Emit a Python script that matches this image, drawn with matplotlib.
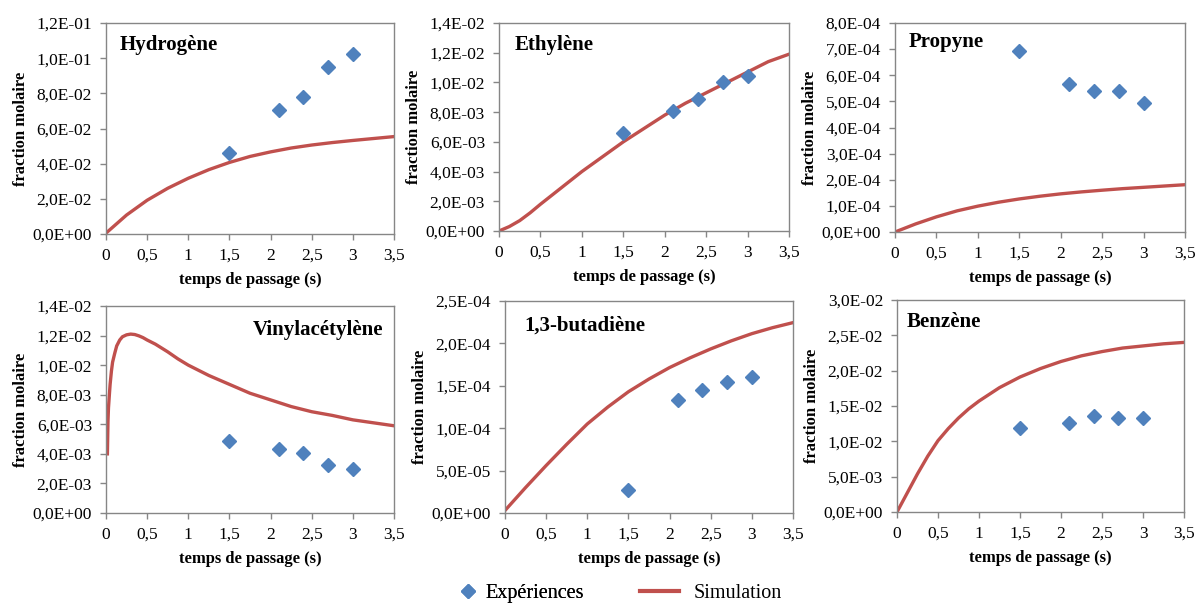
import matplotlib
matplotlib.use('Agg')
import matplotlib.pyplot as plt
from matplotlib.ticker import FuncFormatter, MultipleLocator

plt.rcParams['font.family'] = ['Liberation Serif', 'DejaVu Serif']

BLUE = '#4F81BD'
RED = '#C0504D'
GRAY = '#868686'

# experimental passage times (s)
exp_t = [1.5, 2.1, 2.4, 2.7, 3.0]

# common simulation time grid (s)
sim_t = [0, 0.25, 0.5, 0.75, 1.0, 1.25, 1.5, 1.75, 2.0, 2.25, 2.5, 2.75, 3.0, 3.25, 3.5]

h2_exp = [0.0459, 0.0703, 0.0779, 0.0948, 0.1026]
h2_sim = [0.0005, 0.0108, 0.0192, 0.0260, 0.0317, 0.0366, 0.0407, 0.0441, 0.0467, 0.0489,
          0.0506, 0.0520, 0.0532, 0.0543, 0.0554]

c2h4_exp = [0.00658, 0.00811, 0.00888, 0.01002, 0.01045]
c2h4_t = [0, 0.125, 0.25, 0.375, 0.5, 0.75, 1.0, 1.25, 1.5, 1.75, 2.0, 2.25, 2.5, 2.75,
          3.0, 3.25, 3.5]
c2h4_sim = [0.0, 0.0003, 0.0007, 0.00122, 0.0018, 0.0029, 0.0040, 0.0050, 0.0060, 0.0069,
            0.0078, 0.0086, 0.0093, 0.0100, 0.0107, 0.0114, 0.0119]

propyne_exp = [6.94e-4, 5.66e-4, 5.41e-4, 5.41e-4, 4.93e-4]
propyne_sim = [0.0, 0.31e-4, 0.58e-4, 0.81e-4, 0.99e-4, 1.14e-4, 1.265e-4, 1.37e-4, 1.46e-4,
               1.535e-4, 1.60e-4, 1.66e-4, 1.71e-4, 1.76e-4, 1.81e-4]

vinyl_exp = [0.00484, 0.00432, 0.00403, 0.00324, 0.00299]
vinyl_t = [0.017, 0.024, 0.03, 0.041, 0.05, 0.066, 0.08, 0.106, 0.13, 0.167, 0.2, 0.25,
           0.3, 0.35, 0.4, 0.45, 0.5, 0.6, 0.75, 0.875, 1.0, 1.25, 1.5, 1.75, 2.0, 2.25,
           2.5, 2.75, 3.0, 3.25, 3.5]
vinyl_sim = [0.0040, 0.0062, 0.0071, 0.0080, 0.0087, 0.0096, 0.0102, 0.0108, 0.0113,
             0.0117, 0.01192, 0.01205, 0.0121, 0.01207, 0.01198, 0.01186, 0.0117, 0.01142,
             0.0109, 0.01042, 0.0100, 0.0093, 0.0087, 0.0081, 0.00765, 0.0072, 0.00685,
             0.0066, 0.0063, 0.0061, 0.0059]

butadiene_exp = [2.68e-5, 1.327e-4, 1.453e-4, 1.54e-4, 1.606e-4]
butadiene_sim = [0.3e-5, 3.0e-5, 5.6e-5, 8.1e-5, 1.05e-4, 1.25e-4, 1.43e-4, 1.58e-4,
                 1.715e-4, 1.83e-4, 1.935e-4, 2.03e-4, 2.115e-4, 2.185e-4, 2.245e-4]

benzene_exp = [0.01191, 0.01262, 0.01356, 0.01333, 0.01333]
benzene_t = [0, 0.125, 0.25, 0.375, 0.5, 0.625, 0.75, 0.875, 1.0, 1.25, 1.5, 1.75, 2.0,
             2.25, 2.5, 2.75, 3.0, 3.25, 3.5]
benzene_sim = [0.0, 0.0027, 0.0054, 0.0079, 0.0101, 0.0118, 0.0133, 0.0146, 0.0157,
               0.0176, 0.0191, 0.0203, 0.0213, 0.0221, 0.0227, 0.0232, 0.0235, 0.0238,
               0.0240]

W, H = 1196, 604

panels = [
    # name, sim x, sim y, exp y, ymax, ystep, box px (left, top, right, bottom), title pos, align
    ('Hydrogène', sim_t, h2_sim, h2_exp, 0.12, 0.02, (106, 23, 394, 234), (0.049, 0.896), 'left'),
    ('Ethylène', c2h4_t, c2h4_sim, c2h4_exp, 0.014, 0.002, (499, 23, 789, 231), (0.055, 0.894), 'left'),
    ('Propyne', sim_t, propyne_sim, propyne_exp, 8e-4, 1e-4, (895, 23, 1185, 232), (0.048, 0.909), 'left'),
    ('Vinylacétylène', vinyl_t, vinyl_sim, vinyl_exp, 0.014, 0.002, (106, 306, 394, 513), (0.962, 0.884), 'right'),
    ('1,3-butadiène', sim_t, butadiene_sim, butadiene_exp, 2.5e-4, 5e-5, (505, 301, 793, 513), (0.069, 0.882), 'left'),
    ('Benzène', benzene_t, benzene_sim, benzene_exp, 0.03, 0.005, (897, 300, 1184, 512), (0.035, 0.896), 'left'),
]


def sci_fmt(v, pos):
    return f'{v:.1E}'.replace('.', ',')


def x_fmt(v, pos):
    return f'{v:g}'.replace('.', ',')


fig = plt.figure(figsize=(W / 100, H / 100), dpi=100)

for name, st, sy, ey, ymax, ystep, box, tpos, align in panels:
    l, t, r, b = box
    ax = fig.add_axes([l / W, 1 - b / H, (r - l) / W, (b - t) / H])
    ax.plot(st, sy, color=RED, lw=2.4, solid_joinstyle='round', zorder=2)
    ax.plot(exp_t, ey, 'D', color=BLUE, ms=7.5, mec=BLUE, zorder=3)
    ax.set_xlim(0, 3.5)
    ax.set_ylim(0, ymax)
    ax.xaxis.set_major_locator(MultipleLocator(0.5))
    ax.yaxis.set_major_locator(MultipleLocator(ystep))
    ax.xaxis.set_major_formatter(FuncFormatter(x_fmt))
    ax.yaxis.set_major_formatter(FuncFormatter(sci_fmt))
    for s in ax.spines.values():
        s.set_color(GRAY)
        s.set_linewidth(1.0)
    ax.tick_params(axis='both', direction='out', length=4, width=1, color=GRAY,
                   labelsize=12.5, labelcolor='black')
    ax.tick_params(axis='y', pad=6)
    ax.tick_params(axis='x', pad=6)
    ax.set_xlabel('temps de passage (s)', fontsize=12, fontweight='bold', labelpad=6)
    ax.set_ylabel('fraction molaire', fontsize=12, fontweight='bold', labelpad=3)
    ax.text(tpos[0], tpos[1], name, transform=ax.transAxes, fontsize=15,
            fontweight='bold', ha=align, va='center')

leg1 = fig.legend(handles=[plt.Line2D([], [], ls='none', marker='D', color=BLUE, ms=7)],
                  labels=['Expériences'], loc='center left',
                  bbox_to_anchor=(460 / W, 1 - 593 / H), frameon=False, fontsize=14.5,
                  borderpad=0, borderaxespad=0, handlelength=0.8, handletextpad=0.45,
                  numpoints=1)
leg2 = fig.legend(handles=[plt.Line2D([], [], color=RED, lw=3)],
                  labels=['Simulation'], loc='center left',
                  bbox_to_anchor=(640 / W, 1 - 593 / H), frameon=False, fontsize=14.5,
                  borderpad=0, borderaxespad=0, handlelength=1.95, handletextpad=0.7)
fig.add_artist(leg1)

fig.savefig('out.png', dpi=100)
